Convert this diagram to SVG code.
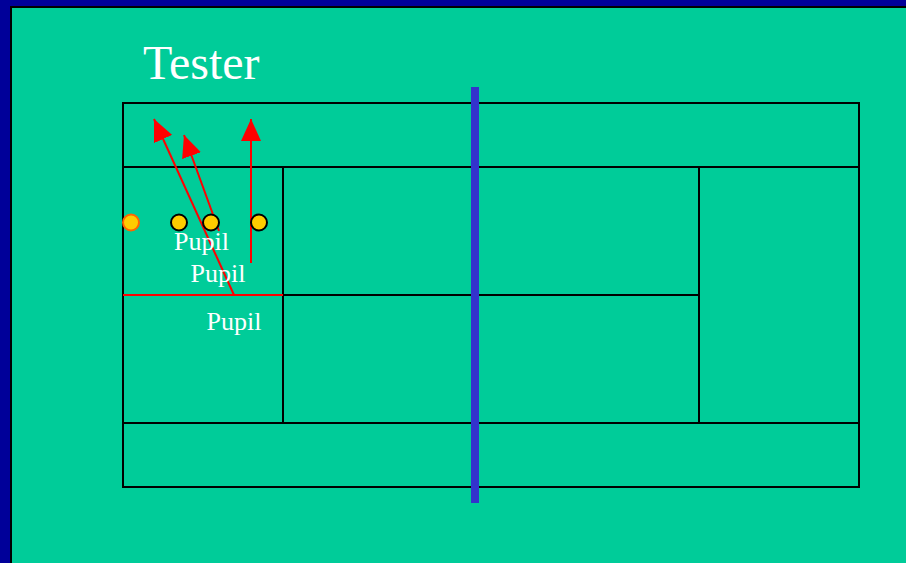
<svg xmlns="http://www.w3.org/2000/svg" width="906" height="563" viewBox="0 0 906 563">
<style>
.court{fill:none;stroke:#000;stroke-width:2}
.red{stroke:#FF0000;stroke-width:2;fill:none}
.ball{fill:#FFCC00;stroke:#000;stroke-width:2}
.lbl{font-family:"Liberation Serif","Times New Roman",serif;fill:#fff}
</style>
<defs>
<marker id="ah" markerUnits="userSpaceOnUse" markerWidth="22" markerHeight="20" viewBox="0 0 22 20" refX="22" refY="10" orient="auto">
<path d="M0,0 L22,10 L0,20 z" fill="#FF0000"/>
</marker>
</defs>
<rect x="0" y="0" width="906" height="563" fill="#000099"/>
<rect x="11" y="7" width="900" height="560" fill="#00CC99" stroke="#000" stroke-width="2"/>
<g id="title"><text class="lbl" x="143" y="79" font-size="48">Tester</text></g>
<g id="court">
<rect class="court" x="123" y="103" width="736" height="384"/>
<line class="court" x1="123" y1="167" x2="859" y2="167"/>
<line class="court" x1="123" y1="423" x2="859" y2="423"/>
<line class="court" x1="283" y1="167" x2="283" y2="423"/>
<line class="court" x1="699" y1="167" x2="699" y2="423"/>
<line class="court" x1="283" y1="295" x2="699" y2="295"/>
</g>
<g id="net"><rect x="471" y="87" width="8" height="416" fill="#3333CC"/></g>
<g id="connectors">
<line class="red" x1="123" y1="295" x2="283" y2="295"/>
<line class="red" x1="234" y1="295" x2="154" y2="119" marker-end="url(#ah)"/>
<line class="red" x1="219" y1="231" x2="184" y2="135" marker-end="url(#ah)"/>
<line class="red" x1="251" y1="263" x2="251" y2="119" marker-end="url(#ah)"/>
</g>
<g id="ball-server"><circle cx="131" cy="222.5" r="8" fill="#FFCC00" stroke="#FF6600" stroke-width="2"/></g>
<g id="ball-1"><circle class="ball" cx="179" cy="222.5" r="8"/></g>
<g id="ball-2"><circle class="ball" cx="211" cy="222.5" r="8"/></g>
<g id="ball-3"><circle class="ball" cx="259" cy="222.5" r="8"/></g>
<g id="pupil-1"><text class="lbl" x="174" y="250" font-size="26">Pupil</text></g>
<g id="pupil-2"><text class="lbl" x="190.5" y="281.5" font-size="26">Pupil</text></g>
<g id="pupil-3"><text class="lbl" x="206.5" y="330" font-size="26">Pupil</text></g>
</svg>
